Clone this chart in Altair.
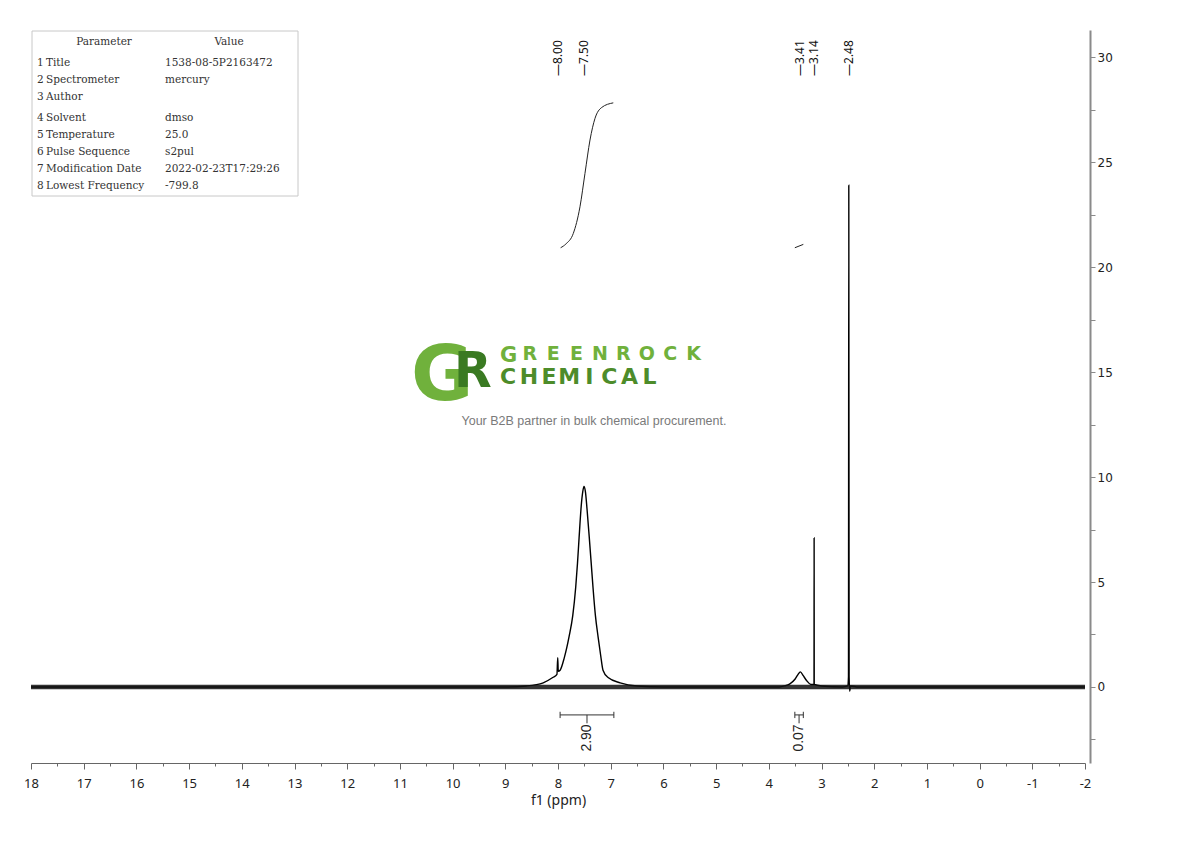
import altair as alt
import pandas as pd

# ---------------- data ----------------
SPEC_PPM = [18.0, 9.0, 8.6, 8.28, 8.1, 8.02, 8.005, 7.995, 7.96, 7.88, 7.79, 7.72, 7.664,
            7.63, 7.60, 7.56, 7.53, 7.507, 7.48, 7.45, 7.406, 7.37, 7.336, 7.29, 7.24,
            7.19, 7.146, 7.05, 6.82, 6.5, 6.0, 3.8, 3.7, 3.6, 3.5, 3.45, 3.40, 3.35, 3.28,
            3.2, 3.142, 3.14, 3.138, 3.0, 2.6, 2.5, 2.488, 2.482, 2.476, 2.465, 2.45,
            2.3, -2.0]
SPEC_INT = [0.0, 0.0, 0.05, 0.2, 0.45, 0.6, 1.4, 0.75, 0.8, 1.4, 2.4, 3.4, 4.75,
            5.9, 7.1, 8.6, 9.3, 9.55, 9.3, 8.5, 7.1, 5.9, 4.75, 3.4, 2.4,
            1.5, 0.8, 0.45, 0.2, 0.05, 0.0, 0.0, 0.05, 0.15, 0.38, 0.58, 0.72, 0.55, 0.3,
            0.12, 0.12, 7.1, 0.12, 0.05, 0.0, 0.05, 0.5, 23.9, 0.5, -0.2, 0.05,
            0.0, 0.0]
NOISE_HALF = 0.11

INT1_PPM = [7.95, 7.85, 7.71, 7.583, 7.488, 7.393, 7.298, 7.171, 6.951]
INT1_VAL = [20.92, 21.1, 21.6, 22.87, 24.46, 26.05, 27.08, 27.6, 27.82]
INT2_PPM = [3.506, 3.345]
INT2_VAL = [20.92, 21.08]

BR_START = [7.96, 3.506]
BR_END = [6.94, 3.345]
BR_LABELS = ["2.90", "0.07"]

PEAK_PPM = [8.00, 7.50, 3.41, 3.14, 2.48]
PEAK_LABELS = ["\u20148.00", "\u20147.50", "\u20143.41", "\u20143.14", "\u20142.48"]

TABLE_HEAD = ["Parameter", "Value"]
TABLE_PARAMS = ["Title", "Spectrometer", "Author", "Solvent", "Temperature",
                "Pulse Sequence", "Modification Date", "Lowest Frequency"]
TABLE_VALUES = ["1538-08-5P2163472", "mercury", "", "dmso", "25.0", "s2pul",
                "2022-02-23T17:29:26", "-799.8"]

LOGO_BIG = ["G", "R"]
LOGO_WORD1 = "GREENROCK"
LOGO_WORD2 = "CHEMICAL"
TAGLINE = "Your B2B partner in bulk chemical procurement."

X_TITLE = "f1 (ppm)"
X_DOMAIN = [-2, 18]
Y_DOMAIN = [-3.62, 31.29]
Y_MAJOR = [0, 5, 10, 15, 20, 25, 30]
Y_MINOR = [-2.5, 2.5, 7.5, 12.5, 17.5, 22.5, 27.5]

# ---------------- chart ----------------
W, H = 1054, 733
xs = alt.Scale(domain=X_DOMAIN, reverse=True, nice=False, zero=False)
ys = alt.Scale(domain=Y_DOMAIN, nice=False, zero=False)

def X(field="ppm"):
    return alt.X(f"{field}:Q", scale=xs, axis=None)

def Y(field="val"):
    return alt.Y(f"{field}:Q", scale=ys, axis=None)

x_axis_major = alt.Axis(
    orient="bottom",
    values=list(range(X_DOMAIN[0], X_DOMAIN[1] + 1)),
    labelExpr="'' + datum.value",
    tickSize=6, title=X_TITLE, grid=False, domainColor="#666666", tickColor="#666666",
    labelFont="Noto Sans", labelFontSize=13, labelColor="#222222",
    labelFlush=False, labelOverlap=False, labelPadding=8,
    titleFont="Noto Sans", titleFontSize=14, titleFontWeight="normal",
    titleColor="#222222", titlePadding=3,
)
x_axis_minor = alt.Axis(
    orient="bottom",
    values=[i + 0.5 for i in range(X_DOMAIN[0], X_DOMAIN[1])],
    tickSize=3, labels=False, domain=False, title=None, grid=False, tickColor="#666666",
)
y_axis_major = alt.Axis(
    orient="right", values=Y_MAJOR,
    tickSize=5, offset=5, grid=False, title="",
    domainColor="#8a8a8a", domainWidth=2, tickColor="#8a8a8a",
    labelFont="DejaVu Sans", labelFontSize=12, labelColor="#222222",
    labelPadding=2,
)
y_axis_minor = alt.Axis(
    orient="right", values=Y_MINOR,
    tickSize=5, offset=5, grid=False, title="", labels=False, domain=False,
    tickColor="#8a8a8a",
)

spec_df = pd.DataFrame({"ppm": SPEC_PPM, "val": SPEC_INT})
band_df = pd.DataFrame({"ppm": [X_DOMAIN[1], X_DOMAIN[0]], "val": [-NOISE_HALF] * 2,
                        "val2": [NOISE_HALF] * 2})

spectrum = alt.Chart(spec_df).mark_line(color="#000000", strokeWidth=1.4,
                                         interpolate="monotone").encode(
    x=alt.X("ppm:Q", scale=xs, axis=x_axis_major),
    y=alt.Y("val:Q", scale=ys, axis=y_axis_major),
)

band = alt.Chart(band_df).mark_area(color="#111111", opacity=0.85).encode(
    x=alt.X("ppm:Q", scale=xs, axis=x_axis_minor),
    y=alt.Y("val:Q", scale=ys, axis=y_axis_minor),
    y2="val2:Q")

int_df = pd.DataFrame({
    "ppm": INT1_PPM + INT2_PPM,
    "val": INT1_VAL + INT2_VAL,
    "grp": ["a"] * len(INT1_PPM) + ["b"] * len(INT2_PPM),
})
integrals = alt.Chart(int_df).mark_line(color="#222222", strokeWidth=1,
                                         interpolate="monotone").encode(
    x=X(), y=Y(), detail="grp:N")

BR_Y = -1.33
br_df = pd.DataFrame({
    "s": BR_START, "e": BR_END,
    "m": [(a + b) / 2 for a, b in zip(BR_START, BR_END)],
    "lab": BR_LABELS,
    "y": [BR_Y] * 2, "yt": [BR_Y + 0.15] * 2, "yb": [BR_Y - 0.15] * 2,
    "yc": [BR_Y - 0.4] * 2, "yl": [BR_Y - 0.45] * 2,
})
br_h = alt.Chart(br_df).mark_rule(color="#333333").encode(
    x=X("s"), x2="e:Q", y=Y("y"))
br_c1 = alt.Chart(br_df).mark_rule(color="#333333").encode(
    x=X("s"), y=Y("yt"), y2="yb:Q")
br_c2 = alt.Chart(br_df).mark_rule(color="#333333").encode(
    x=X("e"), y=Y("yt"), y2="yb:Q")
br_mid = alt.Chart(br_df).mark_rule(color="#333333").encode(
    x=X("m"), y=Y("y"), y2="yc:Q")
br_txt = alt.Chart(br_df).mark_text(
    angle=270, align="right", baseline="middle", font="Liberation Sans",
    fontSize=14, color="#222222").encode(x=X("m"), y=Y("yl"), text="lab:N")

pk_df = pd.DataFrame({"ppm": PEAK_PPM, "val": [29.1] * len(PEAK_PPM), "lab": PEAK_LABELS})
peaks = alt.Chart(pk_df).mark_text(
    angle=270, align="left", baseline="middle", font="Noto Sans", fontSize=12,
    color="#111111").encode(x=X(), y=Y(), text="lab:N")

one = pd.DataFrame({"k": [0]})

def txt(s, x, y, **kw):
    return alt.Chart(one).mark_text(text=s, **kw).encode(x=alt.value(x), y=alt.value(y))

layers = [spectrum, band, integrals, br_h, br_c1, br_c2, br_mid, br_txt, peaks]

# parameter table
layers.append(alt.Chart(one).mark_rect(fill="white", stroke="#c8c8c8", strokeWidth=1).encode(
    x=alt.value(1), x2=alt.value(267), y=alt.value(1), y2=alt.value(166)))
tfont = dict(font="DejaVu Serif", fontSize=10.5, color="#333333", baseline="middle")
layers.append(txt(TABLE_HEAD[0], 73, 12, align="center", **tfont))
layers.append(txt(TABLE_HEAD[1], 198, 12, align="center", **tfont))
for i, (p, v) in enumerate(zip(TABLE_PARAMS, TABLE_VALUES)):
    yy = 33 + i * 17 + (4 if i >= 3 else 0)
    layers.append(txt(str(i + 1), 6, yy, align="left", **tfont))
    layers.append(txt(p, 15, yy, align="left", **tfont))
    if v:
        layers.append(txt(v, 134, yy, align="left", **tfont))

# watermark logo
LIGHT, DARK, MID = "#70b13c", "#3a7a22", "#4d8c2a"
layers.append(txt(LOGO_BIG[0], 380, 370, align="left", baseline="alphabetic",
                  font="DejaVu Sans", fontWeight="bold", fontSize=76, color=LIGHT))
layers.append(txt(LOGO_BIG[1], 423, 357, align="left", baseline="alphabetic",
                  font="DejaVu Sans", fontWeight="bold", fontSize=49, color=DARK))
layers.append(txt(LOGO_WORD1[0], 469, 332, align="left", baseline="alphabetic",
                  font="DejaVu Sans", fontWeight="bold", fontSize=21, color=LIGHT))
for i, ch in enumerate(LOGO_WORD1[1:]):
    layers.append(txt(ch, 487 + 11.8 + i * 23.4, 330, align="center", baseline="alphabetic",
                      font="DejaVu Sans", fontWeight="bold", fontSize=19, color=LIGHT))
layers.append(txt(LOGO_WORD2[0], 469, 354, align="left", baseline="alphabetic",
                  font="DejaVu Sans", fontWeight="bold", fontSize=22, color=MID))
for i, ch in enumerate(LOGO_WORD2[1:]):
    layers.append(txt(ch, 488 + 10.0 + i * 20.1, 354, align="center", baseline="alphabetic",
                      font="DejaVu Sans", fontWeight="bold", fontSize=22, color=MID))
layers.append(txt(TAGLINE, 563, 391, align="center", baseline="middle",
                  font="Liberation Sans", fontSize=12.5, color="#7a7a7a"))

chart = alt.layer(*layers).resolve_axis(x="independent", y="independent").properties(
    width=W, height=H,
    padding={"left": 23, "top": 22, "right": 60, "bottom": 50},
    autosize=alt.AutoSizeParams(type="none"),
).configure(background="white").configure_view(stroke=None)

chart.save("out.html", embed_options={"renderer": "svg", "actions": False})
